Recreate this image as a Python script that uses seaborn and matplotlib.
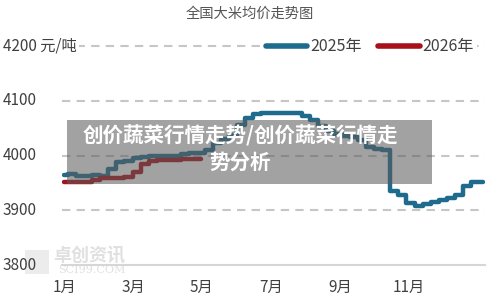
import numpy as np
import pandas as pd
import matplotlib
matplotlib.use("Agg")
import matplotlib.pyplot as plt
import matplotlib.transforms as mtransforms
from matplotlib.patches import Rectangle
from matplotlib.lines import Line2D
import seaborn as sns

# ---------------- data (weekly) ----------------
values_2025 = [3965, 3966, 3963, 3963, 3964, 3963, 3975, 3988, 3990, 3996,
               3997, 3999, 3999, 3999, 3999, 4002, 4005, 4004, 4010, 4022,
               4030, 4038, 4055, 4068, 4076, 4077, 4077, 4077, 4077, 4077,
               4072, 4064, 4053, 4045, 4040, 4036, 4033, 4028, 4015, 4011,
               4010, 3935, 3928, 3914, 3907, 3912, 3915, 3918, 3922, 3928,
               3945, 3951, 3952]
values_2026 = [3951, 3951, 3952, 3952, 3955, 3958, 3958, 3958, 3960, 3970,
               3985, 3990, 3991, 3991, 3992, 3993, 3994, 3994]
series_names = ["2025年", "2026年"]
month_labels = ["1月", "3月", "5月", "7月", "9月", "11月"]
y_ticks = [3800, 3900, 4000, 4100, 4200]
y_tick_labels = ["3800", "3900", "4000", "4100", "4200 元/吨"]
title = "全国大米均价走势图"
overlay_text = "创价蔬菜行情走势/创价蔬菜行情走\n势分析"

df = pd.concat([
    pd.DataFrame({"week": np.arange(len(values_2025)), "price": values_2025, "year": series_names[0]}),
    pd.DataFrame({"week": np.arange(len(values_2026)), "price": values_2026, "year": series_names[1]}),
])

# ---------------- style ----------------
sns.set_style("white")
plt.rcParams["font.family"] = ["Noto Sans CJK SC", "DejaVu Sans"]

W, H = 500, 304
fig = plt.figure(figsize=(W / 100, H / 100), dpi=100)

# faint watermark (behind the axes)
fig.patches.append(Rectangle((25 / W, 1 - 274 / H), 24 / W, 24 / H, transform=fig.transFigure,
                             facecolor="#ececec", edgecolor="none", zorder=-2))
fig.text(53 / W, 1 - 255 / H, "卓创资讯", fontsize=13, color="#e0e0e0", ha="left", va="center",
         fontweight="bold", zorder=-2)
fig.text(58 / W, 1 - 270 / H, "SCI99.COM", fontsize=8, color="#e0e0e0", ha="left", va="center",
         family="DejaVu Serif", zorder=-2)

ax = fig.add_axes([62 / W, 1 - 265 / H, (485 - 62) / W, (265 - 46) / H])
ax.patch.set_alpha(0)

colors = {"2025年": "#1f6b8e", "2026年": "#a8101a"}
sns.lineplot(data=df, x="week", y="price", hue="year", palette=colors,
             linewidth=3.2, ax=ax, legend=False, drawstyle="steps-mid",
             zorder=3)

ax.set_ylim(3800, 4200)
weeks_per_month = 52 / 12.15
ax.set_xlim(-0.25, 52.25)
ax.set_xticks([i * 2 * weeks_per_month for i in range(len(month_labels))])
ax.set_xticklabels(month_labels, fontsize=11, color="#404040")
ax.tick_params(axis="x", length=0, pad=10)
ax.set_xlabel("")
ax.set_ylabel("")

# grid lines (dashed), drawn as explicit line segments in axes coords
ytrans = mtransforms.blended_transform_factory(ax.transAxes, ax.transData)
for yv in y_ticks[1:]:
    ln = Line2D([0, 1], [yv, yv], transform=ytrans, color="#c6c6c6", linewidth=1.5,
                linestyle="--", dashes=(4, 3), zorder=1.5, clip_on=False)
    ax.add_line(ln)
for s in ["top", "right", "left"]:
    ax.spines[s].set_visible(False)
ax.spines["bottom"].set_color("#d6d6d6")
ax.spines["bottom"].set_linewidth(1.5)

# y labels drawn left-aligned at the figure edge
ax.set_yticks(y_ticks)
ax.set_yticklabels([])
ax.tick_params(axis="y", length=0)
trans = mtransforms.blended_transform_factory(fig.transFigure, ax.transData)
for yv, lab in zip(y_ticks, y_tick_labels):
    t = ax.text(3 / W, yv, lab, transform=trans, ha="left", va="center",
                fontsize=11, color="#404040", zorder=5, clip_on=False)
    if yv == 4200:
        t.set_bbox(dict(facecolor="white", edgecolor="none", pad=1.5))

# title
fig.text(0.5, 1 - 14 / H, title, ha="center", va="center", fontsize=10.3, color="#555555")

# legend
handles = [Line2D([0], [0], color=colors[n], lw=4, solid_capstyle="round") for n in series_names]
leg = fig.legend(handles, series_names, loc="center", bbox_to_anchor=(370 / W, 1 - 47 / H),
                 ncol=2, frameon=True, fontsize=11.5, handlelength=2.6, handletextpad=0.2,
                 columnspacing=1.0, borderpad=0.2, facecolor="white", edgecolor="none",
                 framealpha=1.0)
for txt in leg.get_texts():
    txt.set_color("#404040")

# grey overlay banner with white text
fig.patches.append(Rectangle((67 / W, 1 - 184 / H), (432 - 67) / W, (184 - 120) / H,
                             transform=fig.transFigure, facecolor="#5a5a5a", alpha=0.56,
                             edgecolor="none", zorder=10))
fig.text(240 / W, 1 - 149 / H, overlay_text, ha="center", va="center", fontsize=14.8,
         fontweight="bold", color="white", linespacing=1.35, zorder=11)

fig.savefig("out.png", dpi=100)
